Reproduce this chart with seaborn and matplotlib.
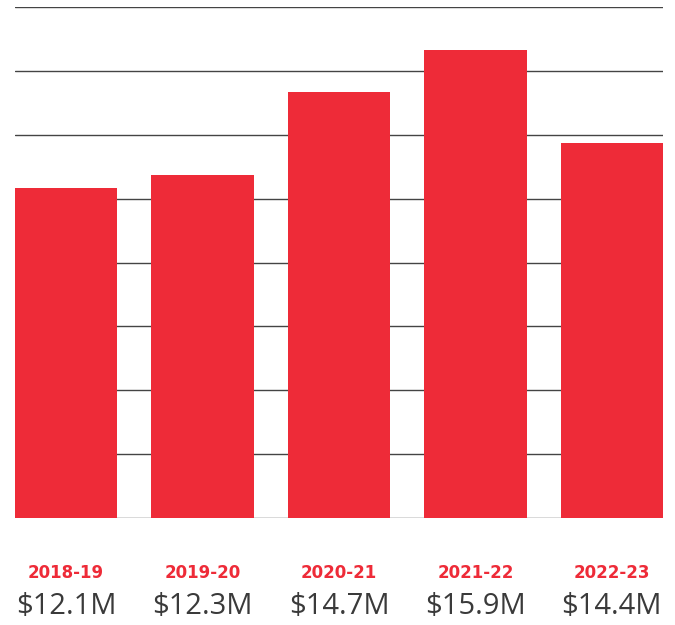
import matplotlib
matplotlib.use("Agg")
import matplotlib.pyplot as plt
import seaborn as sns
import pandas as pd

# fiscal years and the labels printed under each bar
years = ["2018-19", "2019-20", "2020-21", "2021-22", "2022-23"]
value_labels = ["$12.1M", "$12.3M", "$14.7M", "$15.9M", "$14.4M"]
# bar heights as drawn (in $M, gridline every 2)
bar_heights = [10.33, 10.74, 13.34, 14.65, 11.74]
grid_ticks = [0, 2, 4, 6, 8, 10, 12, 14, 16]

df = pd.DataFrame({"year": years, "height": bar_heights})

sns.set_style("white")
plt.rcParams["font.family"] = ["Open Sans", "DejaVu Sans"]

fig = plt.figure(figsize=(6.75, 6.25), dpi=100)
ax = fig.add_axes([15 / 675, (625 - 518) / 625, 648 / 675, 511 / 625])

sns.barplot(data=df, x="year", y="height", color="#EE2B38", width=0.75,
            saturation=1, linewidth=0, ax=ax, zorder=2)

for t in grid_ticks:
    ax.axhline(t, color="#444444", lw=1.0, zorder=1)

ax.set_xlim(-0.375, 4.375)
ax.set_ylim(0, 16)
ax.set_xticks([])
ax.set_yticks([])
ax.set_xlabel("")
ax.set_ylabel("")
for s in ax.spines.values():
    s.set_visible(False)

# labels under the bars
trans = ax.get_xaxis_transform()
y_year = -(573 - 518) / 511
y_val = -(606 - 518) / 511
for i, (yr, lab) in enumerate(zip(years, value_labels)):
    ax.text(i, y_year, yr, transform=trans, ha="center", va="center",
            color="#EE2B38", fontsize=12, fontweight="bold",
            family=["DejaVu Sans"], clip_on=False)
    ax.text(i, y_val, lab, transform=trans, ha="center", va="center",
            color="#3a3a3a", fontsize=21, clip_on=False)

fig.savefig("out.png", dpi=100, facecolor="white")
